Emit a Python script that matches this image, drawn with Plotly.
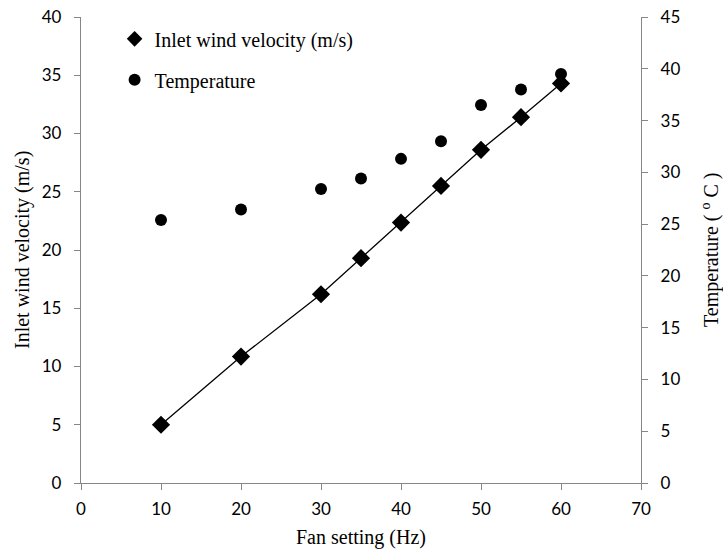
import plotly.graph_objects as go

fan_hz = [10, 20, 30, 35, 40, 45, 50, 55, 60]
velocity = [5.0, 10.85, 16.2, 19.3, 22.35, 25.5, 28.6, 31.4, 34.3]
temperature = [25.4, 26.4, 28.4, 29.4, 31.3, 33.0, 36.5, 38.0, 39.5]

x_ticks = [0, 10, 20, 30, 40, 50, 60, 70]
y1_ticks = [0, 5, 10, 15, 20, 25, 30, 35, 40]
y2_ticks = [0, 5, 10, 15, 20, 25, 30, 35, 40, 45]

x_title = "Fan setting (Hz)"
y1_title = "Inlet wind velocity (m/s)"
y2_title = "Temperature ( <sup>o</sup> C )"

axis_color = "#868686"
serif = "Liberation Serif"
sans = "Lato"

fig = go.Figure()
fig.add_trace(go.Scatter(
    x=fan_hz, y=velocity, mode="lines",
    line=dict(color="black", width=1.3), showlegend=False, hoverinfo="skip"))
fig.add_trace(go.Scatter(
    x=fan_hz, y=velocity, mode="markers", name="Inlet wind velocity (m/s)",
    legendgroup="a",
    marker=dict(symbol="diamond", size=14, color="black")))
fig.add_trace(go.Scatter(
    x=fan_hz, y=temperature, mode="markers", name="Temperature", yaxis="y2",
    legendgroup="b",
    marker=dict(symbol="circle", size=12, color="black")))

title_font = dict(family=serif, size=20, color="black")
fig.update_layout(
    width=723, height=557,
    margin=dict(l=81, r=82, t=17, b=74),
    paper_bgcolor="white", plot_bgcolor="white",
    font=dict(family=sans, size=17, color="black"),
    showlegend=True,
    legend=dict(x=0.06, y=0.995, xanchor="left", yanchor="top",
                font=dict(family=serif, size=20, color="black"),
                bgcolor="rgba(0,0,0,0)", tracegroupgap=12, itemsizing="constant",
                traceorder="grouped"),
    xaxis=dict(range=[0, 70], tickvals=x_ticks, showgrid=False, zeroline=False,
               showline=True, linecolor=axis_color, linewidth=1.3,
               ticks="outside", tickcolor=axis_color, ticklen=6,
               ticklabelstandoff=4, automargin=False,
               tickfont=dict(family=sans, size=17)),
    yaxis=dict(range=[0, 40], tickvals=y1_ticks, showgrid=False, zeroline=False,
               showline=True, linecolor=axis_color, linewidth=1.3,
               ticks="outside", tickcolor=axis_color, ticklen=6,
               ticklabelstandoff=9, automargin=False,
               tickfont=dict(family=sans, size=17)),
    yaxis2=dict(range=[0, 45], tickvals=y2_ticks, overlaying="y", side="right",
                showgrid=False, zeroline=False,
                showline=True, linecolor=axis_color, linewidth=1.3,
                ticks="outside", tickcolor=axis_color, ticklen=6,
                ticklabelstandoff=9, automargin=False,
                tickfont=dict(family=sans, size=17)),
    annotations=[
        dict(text=x_title, xref="paper", yref="paper", x=0.5, y=-0.118,
             xanchor="center", yanchor="middle", showarrow=False, font=title_font),
        dict(text=y1_title, xref="paper", yref="paper", x=-0.1054, y=0.5,
             xanchor="center", yanchor="middle", textangle=-90, showarrow=False, font=title_font),
        dict(text=y2_title, xref="paper", yref="paper", x=1.1232, y=0.5,
             xanchor="center", yanchor="middle", textangle=-90, showarrow=False, font=title_font),
    ],
)

fig.write_html("out.html")
